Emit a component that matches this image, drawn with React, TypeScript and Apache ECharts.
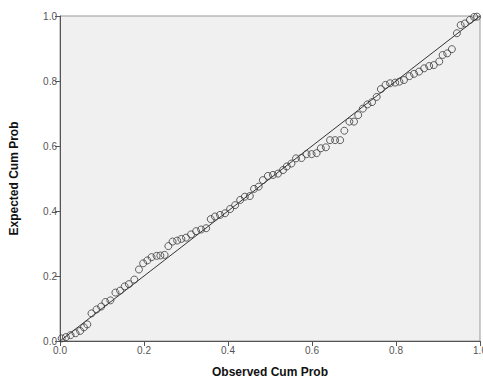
import React, { useEffect, useRef } from "react";
import * as echarts from "echarts";

const observedCumProb: number[] = [
  0.004, 0.014, 0.025, 0.037, 0.048, 0.057, 0.065, 0.075, 0.087, 0.098,
  0.108, 0.12, 0.132, 0.143, 0.154, 0.164, 0.177, 0.188, 0.198, 0.208,
  0.218, 0.23, 0.239, 0.249, 0.258, 0.268, 0.279, 0.289, 0.3, 0.312,
  0.324, 0.336, 0.348, 0.359, 0.369, 0.381, 0.393, 0.405, 0.417, 0.429,
  0.44, 0.452, 0.462, 0.473, 0.483, 0.495, 0.507, 0.519, 0.531, 0.54,
  0.551, 0.562, 0.575, 0.587, 0.599, 0.611, 0.621, 0.633, 0.643, 0.655,
  0.667, 0.677, 0.689, 0.7, 0.71, 0.721, 0.732, 0.743, 0.754, 0.764,
  0.775, 0.786, 0.798, 0.808, 0.819, 0.832, 0.843, 0.855, 0.867, 0.879,
  0.89, 0.903, 0.911, 0.922, 0.933, 0.945, 0.954, 0.964, 0.976, 0.986,
  0.993,
];

const expectedCumProb: number[] = [
  0.008, 0.012, 0.018, 0.024, 0.031, 0.042, 0.051, 0.085, 0.097, 0.106,
  0.12, 0.125, 0.149, 0.155, 0.168, 0.175, 0.189, 0.22, 0.239, 0.248,
  0.258, 0.262, 0.263, 0.265, 0.292, 0.306, 0.309, 0.314, 0.318, 0.328,
  0.338, 0.343, 0.347, 0.375, 0.383, 0.388, 0.393, 0.406, 0.418, 0.434,
  0.444, 0.446, 0.468, 0.475, 0.495, 0.508, 0.511, 0.515, 0.526, 0.537,
  0.546, 0.562, 0.563, 0.575, 0.575, 0.578, 0.593, 0.596, 0.618, 0.618,
  0.618, 0.647, 0.675, 0.675, 0.695, 0.715, 0.728, 0.735, 0.751, 0.775,
  0.788, 0.793, 0.795, 0.798, 0.803, 0.815, 0.822, 0.829, 0.839, 0.846,
  0.849, 0.86, 0.88, 0.885, 0.898, 0.947, 0.972, 0.977, 0.988, 0.997,
  0.998,
];

const referenceLine: number[][] = [
  [0, 0],
  [1, 1],
];

const xTitle = "Observed Cum Prob";
const yTitle = "Expected Cum Prob";

export default function App() {
  const ref = useRef<HTMLDivElement>(null);

  useEffect(() => {
    document.body.style.margin = "0";
    document.body.style.overflow = "hidden";
    document.documentElement.style.overflow = "hidden";
    if (!ref.current) return;
    const chart = echarts.init(ref.current, undefined, { renderer: "svg" });
    const points = observedCumProb.map((x, i) => [x, expectedCumProb[i]]);
    const axisCommon = {
      type: "value" as const,
      min: 0,
      max: 1,
      interval: 0.2,
      axisLine: { show: true, lineStyle: { color: "#555", width: 1 } },
      axisTick: { show: true, inside: false, length: 5, lineStyle: { color: "#555" } },
      splitLine: { show: false },
      nameLocation: "middle" as const,
      nameTextStyle: {
        fontWeight: "bold" as const,
        fontSize: 12,
        color: "#111",
        fontFamily: "Liberation Sans, Arial, sans-serif",
      },
    };
    chart.setOption({
      animation: false,
      backgroundColor: "#ffffff",
      grid: {
        left: 60,
        right: 3,
        top: 16,
        bottom: 38,
        containLabel: false,
        outerBoundsMode: "none",
        show: true,
        backgroundColor: "#f0f0f0",
        borderColor: "#999",
        borderWidth: 1,
      },
      xAxis: {
        ...axisCommon,
        name: xTitle,
        nameGap: 25,
        axisLabel: {
          formatter: (v: number) => v.toFixed(1),
          color: "#555",
          fontSize: 10,
          margin: 4,
          fontFamily: "Liberation Sans, Arial, sans-serif",
        },
      },
      yAxis: {
        ...axisCommon,
        name: yTitle,
        nameGap: 40,
        axisLabel: {
          formatter: (v: number) => v.toFixed(1),
          color: "#555",
          fontSize: 10,
          margin: 3,
          fontFamily: "Liberation Sans, Arial, sans-serif",
        },
      },
      series: [
        {
          type: "line",
          data: referenceLine,
          symbol: "none",
          lineStyle: { color: "#333", width: 1 },
          silent: true,
          z: 2,
        },
        {
          type: "scatter",
          data: points,
          symbol: "circle",
          symbolSize: 7,
          itemStyle: {
            color: "rgba(0,0,0,0)",
            borderColor: "#3a3a3a",
            borderWidth: 1,
          },
          z: 3,
        },
      ],
    });
    return () => chart.dispose();
  }, []);

  return (
    <div
      ref={ref}
      style={{ position: "fixed", left: 0, top: 0, width: 483, height: 379 }}
    />
  );
}
